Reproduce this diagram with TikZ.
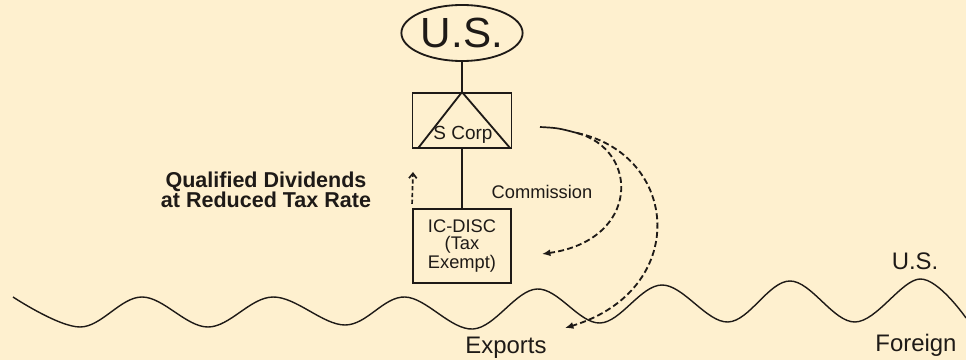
\documentclass[tikz,border=0pt]{standalone}
\usepackage{fontspec}
\setmainfont{Liberation Sans}
\usetikzlibrary{arrows.meta,shapes.geometric}
\definecolor{paper}{HTML}{FEF0CF}
\definecolor{ink}{HTML}{1E1A17}

\begin{document}
\begin{tikzpicture}[x=0.025cm,y=-0.025cm,
    every node/.style={text=ink},
    box/.style={draw=ink,line width=1.3pt,inner sep=0pt},
    link/.style={draw=ink,line width=1.3pt},
    flow/.style={draw=ink,line width=1.3pt,dash pattern=on 4.3pt off 2.3pt,-{Latex[length=6pt,width=5pt]}},
    lbl/.style={font=\fontsize{17}{17}\selectfont}]
\fill[paper] (0,0) rectangle (966,360);
\useasboundingbox (0,0) rectangle (966,360);

\node (us) at (462,33)[ellipse,box,minimum width=3.03cm,minimum height=1.4cm]{\fontsize{30}{30}\selectfont U.S.};
\node (scorp) at (462,120.5)[box,minimum width=2.475cm,minimum height=1.375cm]{};
\draw[link,line join=miter] ([xshift=5pt,yshift=1pt]scorp.south west) -- (scorp.north)
    -- ([xshift=-2pt,yshift=1pt]scorp.south east);
\node (scorplbl) at (463,135){\fontsize{13.5}{14}\selectfont S Corp};
\node (icdisc) at (462,246)[box,minimum width=2.45cm,minimum height=1.85cm,align=center,
    font=\fontsize{13}{12}\selectfont]{IC-DISC\\(Tax\\Exempt)};

\draw[link] (us) -- (scorp);
\draw[link] (scorp.south) -- (icdisc.north);

\coordinate (src) at (540,127);
\coordinate (fork) at (577,133);
\coordinate (inner) at (542,254);
\coordinate (outer) at (565,328);
\coordinate (divtip) at (413,172);
\draw[ink,line width=1.2pt] (src) .. controls (558,128) .. (fork);
\draw[flow] (fork) .. controls (640,150) and (640,240) .. (inner);
\draw[flow] (fork) .. controls (680,155) and (690,290) .. (outer);
\draw[ink,line width=1.2pt,dash pattern=on 3pt off 1.8pt,-{Straight Barb[length=3.5pt,width=5.5pt]}]
    ([yshift=3pt]icdisc.north west) -- (divtip);

\draw[ink,line width=1pt] plot[smooth,tension=0.6] coordinates {(13,297) (80,327) (142,297) (208,327)
    (273,297) (345,325) (405,297) (473,329) (537,289) (600,323) (662,285) (728,322) (790,281)
    (855,322) (920,279) (966,318)};

\node (divlbl) at (266,190)[align=center,font=\bfseries\fontsize{15.3}{14.5}\selectfont]{Qualified Dividends\\at Reduced Tax Rate};
\node (comm) at (542,192)[font=\fontsize{13}{13}\selectfont]{Commission};
\node (exports) at (506,348)[lbl]{Exports};
\node (uslbl) at (915,261)[lbl]{U.S.};
\node (foreign) at (916,345)[lbl]{Foreign};
\end{tikzpicture}
\end{document}
